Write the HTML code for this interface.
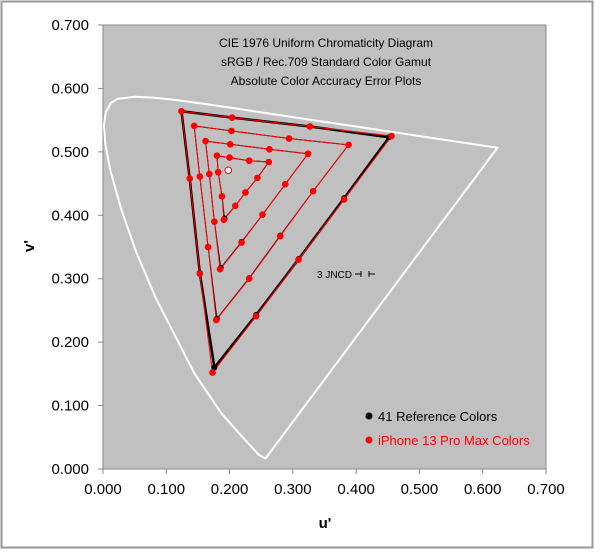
<!DOCTYPE html>
<html><head><meta charset="utf-8"><style>
html,body{margin:0;padding:0;background:#fff;}
svg{display:block;font-family:"Liberation Sans",Arial,sans-serif;}
</style></head><body>
<svg id="chart" width="600" height="552" viewBox="0 0 600 552" xmlns="http://www.w3.org/2000/svg">
<rect x="1.5" y="1.5" width="591" height="546" fill="#fff" stroke="#999" stroke-width="2"/>
<rect x="103" y="25" width="443" height="444" fill="#c0c0c0" stroke="#888" stroke-width="1"/>
<g id="axes"></g>
<g id="locus"></g>
<g id="marks"></g>
<text x="326" y="47" font-size="12" text-anchor="middle">CIE 1976 Uniform Chromaticity Diagram</text>
<text x="326" y="66" font-size="12" text-anchor="middle">sRGB / Rec.709 Standard Color Gamut</text>
<text x="326" y="85" font-size="12" text-anchor="middle">Absolute Color Accuracy Error Plots</text>
<text x="325" y="528" font-size="15" font-weight="bold" text-anchor="middle">u'</text>
<text x="0" y="0" font-size="15" font-weight="bold" text-anchor="middle" transform="translate(34,246) rotate(-90)">v'</text>
<text x="317" y="278" font-size="10">3 JNCD</text>
<g stroke="#000" stroke-width="1">
<line x1="355" y1="274" x2="361" y2="274"/><line x1="361" y1="271" x2="361" y2="277"/>
<line x1="369" y1="274" x2="375" y2="274"/><line x1="369" y1="271" x2="369" y2="277"/>
</g>
<g>
<circle cx="369" cy="416" r="3.5" fill="#000"/>
<text x="378" y="421" font-size="13" fill="#000">41 Reference Colors</text>
<circle cx="369" cy="440" r="3.5" fill="#f00"/>
<text x="378" y="445" font-size="13" fill="#f00">iPhone 13 Pro Max Colors</text>
</g>
</svg>
<script>
const xTicks = ["0.000","0.100","0.200","0.300","0.400","0.500","0.600","0.700"];
const yTicks = ["0.000","0.100","0.200","0.300","0.400","0.500","0.600","0.700"];
const locusU = [0.2568,0.2461,0.2161,0.1877,0.1441,0.0828,0.0521,0.0282,0.0119,0.0035,0.0014,0.0046,0.0123,0.0231,0.0501,0.0792,0.1127,0.1531,0.2026,0.2623,0.3315,0.4035,0.5203,0.6234];
const locusV = [0.0166,0.0226,0.0550,0.0871,0.1510,0.2708,0.3427,0.4117,0.4698,0.5130,0.5431,0.5627,0.5770,0.5837,0.5868,0.5856,0.5821,0.5766,0.5694,0.5604,0.5501,0.5393,0.5219,0.5065];
// rings: [corner G, top edge pts..., corner R, right edge pts..., corner B, left edge pts...]
const refU = [
 [0.124,0.204,0.327,0.452,0.381,0.309,0.242,0.176,0.153,0.137],
 [0.144,0.203,0.294,0.388,0.332,0.280,0.231,0.180,0.166,0.153],
 [0.162,0.201,0.263,0.324,0.288,0.252,0.219,0.186,0.176,0.168],
 [0.180,0.200,0.231,0.262,0.244,0.225,0.209,0.192,0.188,0.182]];
const refV = [
 [0.564,0.554,0.540,0.523,0.427,0.331,0.243,0.160,0.309,0.458],
 [0.541,0.533,0.521,0.511,0.438,0.368,0.301,0.237,0.350,0.461],
 [0.517,0.512,0.504,0.497,0.449,0.401,0.358,0.317,0.390,0.465],
 [0.494,0.491,0.486,0.484,0.459,0.436,0.415,0.395,0.430,0.468]];
const measU = [
 [0.124,0.204,0.327,0.456,0.381,0.309,0.242,0.173,0.153,0.137],
 [0.144,0.203,0.294,0.388,0.332,0.280,0.231,0.179,0.166,0.153],
 [0.162,0.201,0.263,0.324,0.288,0.252,0.219,0.185,0.176,0.168],
 [0.180,0.200,0.231,0.262,0.244,0.225,0.209,0.191,0.188,0.182]];
const measV = [
 [0.564,0.554,0.540,0.525,0.425,0.330,0.241,0.152,0.308,0.458],
 [0.541,0.533,0.521,0.511,0.438,0.367,0.300,0.235,0.350,0.461],
 [0.517,0.512,0.504,0.497,0.449,0.401,0.357,0.315,0.390,0.465],
 [0.494,0.491,0.486,0.484,0.459,0.436,0.415,0.393,0.430,0.468]];
const whiteU = [0.198];
const whiteV = [0.471];

const X0=103, X1=546, Y0=469, Y1=25;
function sx(u){return X0+(u/0.7)*(X1-X0);}
function sy(v){return Y0-(v/0.7)*(Y0-Y1);}
const NS="http://www.w3.org/2000/svg";
function mk(tag,parent,attrs){const e=document.createElementNS(NS,tag);for(const k in attrs)e.setAttribute(k,attrs[k]);parent.appendChild(e);return e;}
const axes=document.getElementById('axes');
xTicks.forEach((t,i)=>{
  const x=sx(parseFloat(t));
  const l=mk('line',axes,{x1:x,y1:Y0,x2:x,y2:Y0+5,stroke:'#888'});
  
  
  const tx=mk('text',axes,{x:x,y:Y0+25,'font-size':15,'text-anchor':'middle'});
  tx.textContent=t;
  
  
});
yTicks.forEach((t,i)=>{
  const y=sy(parseFloat(t));
  const l=mk('line',axes,{x1:X0-5,y1:y,x2:X0,y2:y,stroke:'#888'});
  
  
  const tx=mk('text',axes,{x:89,y:y+5,'font-size':15,'text-anchor':'end'});
  tx.textContent=t;
  
  
});
const loc=document.getElementById('locus');
let d=locusU.map((u,i)=>(i?'L':'M')+sx(u).toFixed(1)+' '+sy(locusV[i]).toFixed(1)).join(' ')+' Z';
const lp=mk('path',loc,{d:d,fill:'none',stroke:'#fff','stroke-width':2,'stroke-linejoin':'round'});


const marks=document.getElementById('marks');
function ringPath(U,V){return U.map((u,i)=>(i?'L':'M')+sx(u).toFixed(1)+' '+sy(V[i]).toFixed(1)).join(' ')+' Z';}
refU.forEach((U,r)=>{
  const p=mk('path',marks,{d:ringPath(U,refV[r]),fill:'none',stroke:'#000','stroke-width':r===0?2.5:1});
  
  
});
measU.forEach((U,r)=>{
  const p=mk('path',marks,{d:ringPath(U,measV[r]),fill:'none',stroke:'#f00','stroke-width':1});
  
  
});
refU.forEach((U,r)=>U.forEach((u,i)=>{
  const c=mk('circle',marks,{cx:sx(u),cy:sy(refV[r][i]),r:3,fill:'#000'});
  
  
}));
measU.forEach((U,r)=>U.forEach((u,i)=>{
  const c=mk('circle',marks,{cx:sx(u),cy:sy(measV[r][i]),r:3.3,fill:'#f00'});
  
  
}));
whiteU.forEach((u,i)=>{
  const c=mk('circle',marks,{cx:sx(u),cy:sy(whiteV[i]),r:3.3,fill:'#fff',stroke:'#f00','stroke-width':1});
  
  
});
</script>
</body></html>
